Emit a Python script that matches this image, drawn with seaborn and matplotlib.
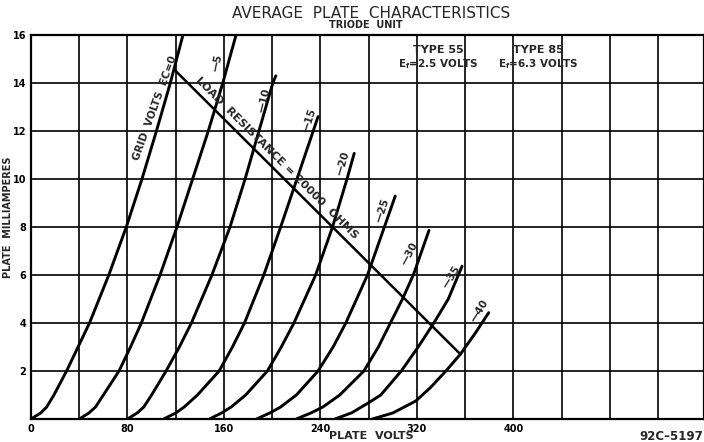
import numpy as np
import pandas as pd
import matplotlib
matplotlib.use("Agg")
import matplotlib.pyplot as plt
import seaborn as sns

# -------------------------------------------------------------
#  Curvas de placa (voltios de placa, mA)
# -------------------------------------------------------------

GRID_VOLTS = [0, -5, -10, -15, -20, -25, -30, -35, -40]

EC_0_V   = [0, 8, 13, 19, 29.5, 39, 48.5, 64.5, 79, 92, 104, 115.5, 126]
EC_0_MA  = [0, 0.25, 0.5, 1, 2, 3, 4, 6, 8, 10, 12, 14, 16]

EC_5_V   = [40, 48, 53.5, 60, 73, 82.5, 91.5, 107, 121, 134, 147, 159, 170]
EC_5_MA  = [0, 0.25, 0.5, 1, 2, 3, 4, 6, 8, 10, 12, 14, 16]

EC_10_V  = [80, 88, 93.5, 100, 112, 123, 133, 150, 165, 177.5, 189, 200.5, 203]
EC_10_MA = [0, 0.25, 0.5, 1, 2, 3, 4, 6, 8, 10, 12, 14, 14.3]

EC_15_V  = [110, 120, 127, 138, 156, 167, 177, 193, 207, 220.5, 234, 238]
EC_15_MA = [0, 0.25, 0.5, 1, 2, 3, 4, 6, 8, 10, 12, 12.6]

EC_20_V  = [148, 158, 166, 178, 196, 207.5, 218, 236, 250, 262, 268]
EC_20_MA = [0, 0.25, 0.5, 1, 2, 3, 4, 6, 8, 10, 11.07]

EC_25_V  = [187, 198, 207, 220, 238, 250.5, 261, 279, 293, 302]
EC_25_MA = [0, 0.25, 0.5, 1, 2, 3, 4, 6, 8, 9.29]

EC_30_V  = [220, 232, 242, 256, 276, 288, 298, 308, 317, 330]
EC_30_MA = [0, 0.25, 0.5, 1, 2, 3, 4, 5, 6, 7.86]

EC_35_V  = [252, 266, 280, 290, 307, 321, 334, 346, 357.4]
EC_35_MA = [0, 0.26, 0.68, 1, 2, 3, 4, 5, 6.37]

EC_40_V  = [283, 300, 319, 331, 344, 356, 368, 379.5]
EC_40_MA = [0, 0.25, 0.75, 1.3, 2, 2.7, 3.55, 4.43]

# recta de carga 20000 ohms
LOAD_V  = [118.6, 356]
LOAD_MA = [14.57, 2.7]

CURVAS_V  = [EC_0_V, EC_5_V, EC_10_V, EC_15_V, EC_20_V,
             EC_25_V, EC_30_V, EC_35_V, EC_40_V]
CURVAS_MA = [EC_0_MA, EC_5_MA, EC_10_MA, EC_15_MA, EC_20_MA,
             EC_25_MA, EC_30_MA, EC_35_MA, EC_40_MA]

X_TICKS = [0, 80, 160, 240, 320, 400]
Y_TICKS = [0, 2, 4, 6, 8, 10, 12, 14, 16]

CURVE_LABELS = ["GRID  VOLTS  EC=0", "\u20145", "\u201410", "\u201415", "\u201420",
                "\u201425", "\u201430", "\u201435", "\u201440"]

# posicion (V, mA) y giro de cada etiqueta
LABEL_POS = [(102.8, 12.96), (154.2, 14.83), (193.2, 13.29), (231.3, 12.46),
             (258.7, 10.67), (291.0, 8.71), (314.3, 6.875), (349.0, 5.92),
             (372.3, 4.5)]
LABEL_ROT = [70, 78, 77, 72, 74, 72, 62, 58, 58]


# -------------------------------------------------------------
#  Tabla larga para seaborn
# -------------------------------------------------------------

filas = []
for ec, vs, ms in zip(GRID_VOLTS, CURVAS_V, CURVAS_MA):
    for k, (v, m) in enumerate(zip(vs, ms)):
        filas.append({"grid": ec, "orden": k, "plate_v": v, "plate_ma": m})
df = pd.DataFrame(filas)

sns.set_style("white")
plt.rcParams["font.family"] = ["DejaVu Sans"]

fig = plt.figure(figsize=(7.04, 4.42), dpi=100)
ax = fig.add_axes([31 / 704, 23 / 442, 673 / 704, 384 / 442])

sns.lineplot(
    data=df, x="plate_v", y="plate_ma", units="grid",
    estimator=None, sort=False, color="black", linewidth=2.1, ax=ax,
)
sns.lineplot(x=LOAD_V, y=LOAD_MA, color="black", linewidth=1.8, ax=ax)

ax.set_xlim(0, 558)
ax.set_ylim(0, 16)

# rejilla cada 40 V y cada 2 mA
xt = np.arange(0, 560, 40)
ax.set_xticks(xt)
ax.set_xticklabels([str(t) if t in X_TICKS else "" for t in xt])
ax.set_yticks(Y_TICKS)
ax.set_yticklabels([""] + [str(t) for t in Y_TICKS[1:]])
ax.grid(True, color="black", linewidth=1.2)
ax.set_axisbelow(True)
for s in ax.spines.values():
    s.set_color("black")
    s.set_linewidth(1.6)
ax.tick_params(axis="both", length=2.5, width=1, pad=1.0, labelsize=7,
               colors="black")
for t in ax.get_xticklabels() + ax.get_yticklabels():
    t.set_fontweight("bold")

ax.set_xlabel("PLATE  VOLTS", fontsize=8, fontweight="bold")
ax.xaxis.set_label_coords(0.505, -0.031)
ax.set_ylabel("PLATE  MILLIAMPERES", fontsize=7, fontweight="bold")
ax.yaxis.set_label_coords(-0.027, 0.526)

# etiquetas de las curvas
for txt, (v, m), rot in zip(CURVE_LABELS, LABEL_POS, LABEL_ROT):
    ax.text(v, m, txt, rotation=rot, ha="center", va="center",
            rotation_mode="anchor", fontsize=7.5, fontweight="bold")

# texto de la recta de carga, paralelo a ella
p0 = ax.transData.transform((LOAD_V[0], LOAD_MA[0]))
p1 = ax.transData.transform((LOAD_V[1], LOAD_MA[1]))
ang = np.degrees(np.arctan2(p1[1] - p0[1], p1[0] - p0[0]))
ax.text(203.6, 10.875, "LOAD  RESISTANCE = 20000  OHMS", rotation=ang,
        ha="center", va="center", rotation_mode="anchor",
        fontsize=8.2, fontweight="bold")

ax.text(337.5, 15.37, "TYPE 55", ha="center", va="center", fontsize=8, fontweight="bold")
ax.text(337.5, 14.79, r"E$_\mathregular{f}$=2.5 VOLTS", ha="center", va="center",
        fontsize=7.5, fontweight="bold")
ax.text(421, 15.37, "TYPE 85", ha="center", va="center", fontsize=8, fontweight="bold")
ax.text(421, 14.79, r"E$_\mathregular{f}$=6.3 VOLTS", ha="center", va="center",
        fontsize=7.5, fontweight="bold")

fig.text(371 / 704, 1 - 13 / 442, "AVERAGE  PLATE  CHARACTERISTICS",
         ha="center", va="center", fontsize=11)
fig.text(366 / 704, 1 - 25 / 442, "TRIODE  UNIT", ha="center", va="center",
         fontsize=7, fontweight="bold")
fig.text(703 / 704, 1 - 436 / 442, "92C\u20135197", ha="right", va="center",
         fontsize=8.5, fontweight="bold")

fig.savefig("out.png", dpi=100)
plt.close(fig)
